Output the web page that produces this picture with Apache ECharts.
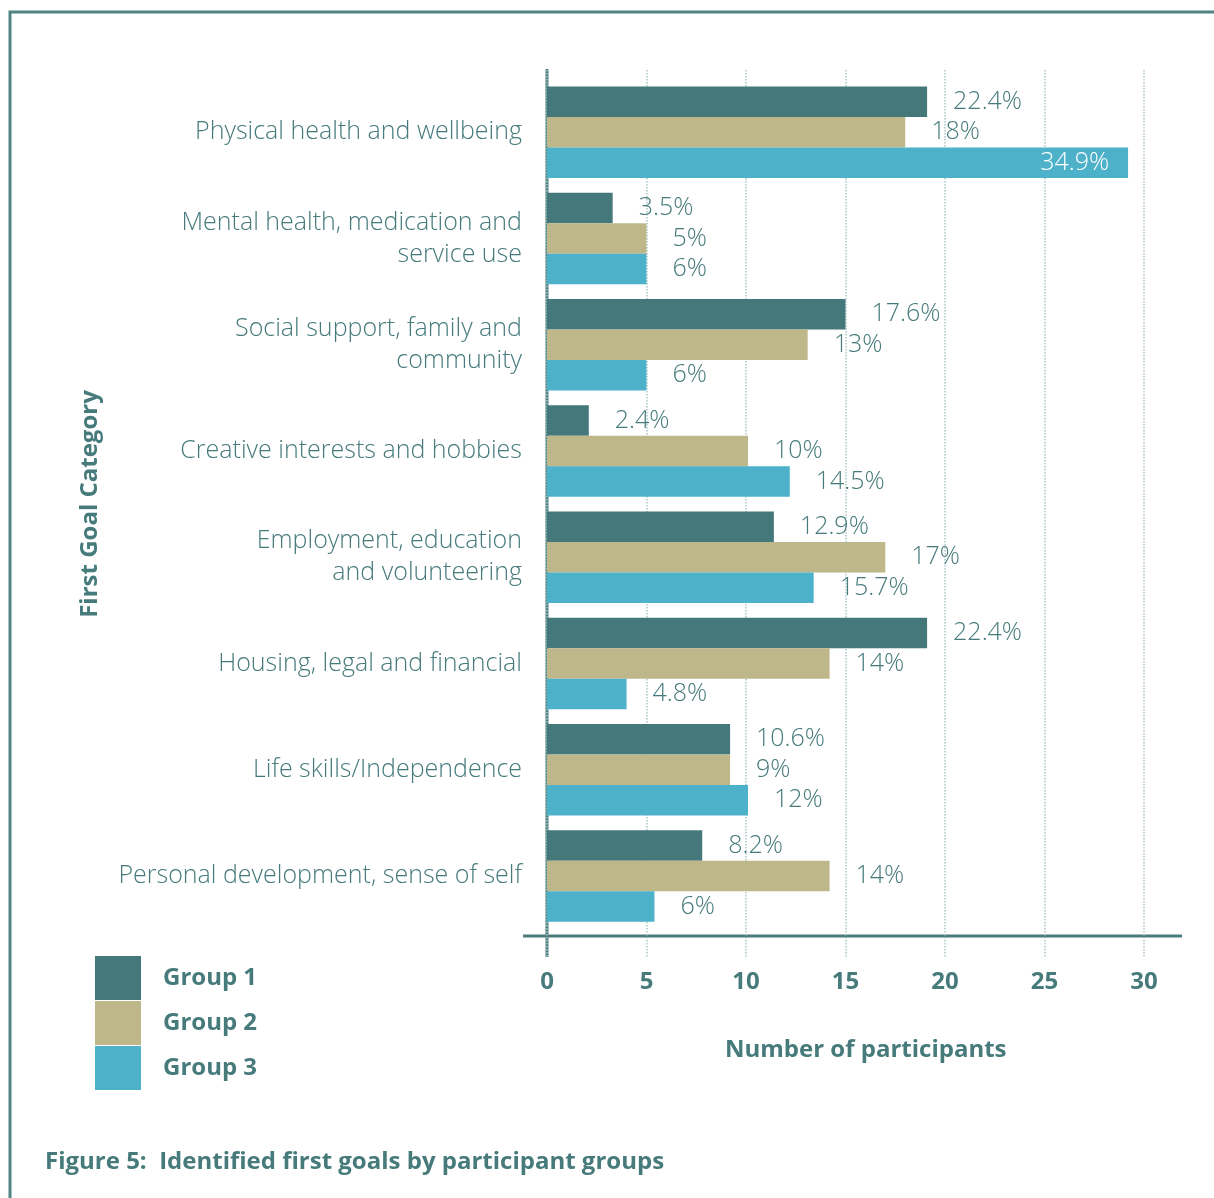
<!DOCTYPE html>
<html>
<head>
<meta charset="utf-8">
<script src="https://cdn.jsdelivr.net/npm/echarts@6/dist/echarts.min.js"></script>
<style>
html,body{margin:0;padding:0;background:#fff;}
#graph{width:1214px;height:1198px;}
</style>
</head>
<body>
<div id="graph"></div>
<script>
var categories = [
    'Physical health and wellbeing',
    'Mental health, medication and\nservice use',
    'Social support, family and\ncommunity',
    'Creative interests and hobbies',
    'Employment, education\nand volunteering',
    'Housing, legal and financial',
    'Life skills/Independence',
    'Personal development, sense of self'
];
var groupNames = ['Group 1', 'Group 2', 'Group 3'];
var group1 = [19.1, 3.3, 15.0, 2.1, 11.4, 19.1, 9.2, 7.8];
var group2 = [18.0, 5.0, 13.1, 10.1, 17.0, 14.2, 9.2, 14.2];
var group3 = [29.2, 5.0, 5.0, 12.2, 13.4, 4.0, 10.1, 5.4];
var group1Pct = ['22.4%', '3.5%', '17.6%', '2.4%', '12.9%', '22.4%', '10.6%', '8.2%'];
var group2Pct = ['18%', '5%', '13%', '10%', '17%', '14%', '9%', '14%'];
var group3Pct = ['34.9%', '6%', '6%', '14.5%', '15.7%', '4.8%', '12%', '6%'];
var xTicks = [0, 5, 10, 15, 20, 25, 30];

var colors = ['#45787a', '#bdb789', '#4db1ca'];
var textColor = '#467a7b';
var font = 'Open Sans';

function makeSeries(name, values, pcts, color) {
    var data = [];
    for (var i = 0; i < values.length; i++) {
        var item = { value: values[i] };
        // the longest bar carries its label inside, in white
        if (values[i] > 25) {
            item.label = { position: 'insideRight', distance: 19, color: '#fff' };
        }
        data.push(item);
    }
    return {
        name: name,
        type: 'bar',
        xAxisIndex: 0,
        yAxisIndex: 0,
        barWidth: 30.5,
        barGap: '0%',
        itemStyle: { color: color },
        label: {
            show: true,
            position: 'right',
            distance: 26,
            fontFamily: font,
            fontWeight: 300,
            fontSize: 25,
            color: textColor,
            formatter: function (p) { return pcts[p.dataIndex]; }
        },
        data: data
    };
}

var dom = document.getElementById('graph');
var myChart = echarts.init(dom);
var option = {
    animation: false,
    color: colors,
    grid: [
        { left: 547, right: 70, top: 79, height: 850, containLabel: false },
        { left: 547, right: 70, top: 70, height: 887, containLabel: false }
    ],
    xAxis: [
        {
            gridIndex: 0, type: 'value', min: 0, max: 30, interval: 5,
            axisLine: { show: false }, axisTick: { show: false },
            axisLabel: { show: false }, splitLine: { show: false }
        },
        {
            gridIndex: 1, type: 'value', min: 0, max: 30, interval: 5,
            axisLine: { show: false }, axisTick: { show: false },
            axisLabel: {
                margin: 13,
                fontFamily: font, fontWeight: 'bold', fontSize: 24, color: textColor,
                formatter: function (v) { return xTicks.indexOf(v) >= 0 ? String(v) : ''; }
            },
            splitLine: { show: true, lineStyle: { color: '#a9c5c7', type: 'dotted', width: 1.5 } }
        }
    ],
    yAxis: [
        {
            gridIndex: 0, type: 'category', inverse: true, data: categories,
            axisLine: { show: false }, axisTick: { show: false },
            axisLabel: {
                margin: 25, fontFamily: font, fontWeight: 300, fontSize: 25,
                lineHeight: 32, color: textColor, align: 'right'
            },
            name: 'First Goal Category',
            nameLocation: 'middle',
            nameGap: 445,
            nameRotate: 90,
            nameTextStyle: { fontFamily: font, fontWeight: 'bold', fontSize: 24, color: textColor }
        },
        {
            gridIndex: 1, type: 'category', data: categories, show: false
        }
    ],
    legend: {
        orient: 'vertical',
        left: 95,
        top: 956,
        padding: 0,
        itemWidth: 46,
        itemHeight: 44,
        itemGap: 1,
        icon: 'rect',
        data: groupNames,
        textStyle: {
            fontFamily: font, fontWeight: 'bold', fontSize: 24, color: textColor,
            padding: [0, 0, 0, 17]
        }
    },
    graphic: [
        {
            type: 'polyline', silent: true,
            shape: { points: [[10, 1198], [10, 12], [1214, 12]] },
            style: { stroke: '#4f8483', lineWidth: 3, fill: null }
        },
        {
            type: 'line', silent: true,
            shape: { x1: 523, y1: 936, x2: 1182, y2: 936 },
            style: { stroke: '#4a7c7c', lineWidth: 3 }
        },
        {
            type: 'line', silent: true,
            shape: { x1: 547, y1: 69, x2: 547, y2: 957 },
            style: { stroke: '#4a7c7c', lineWidth: 3 }
        },
        {
            type: 'text', left: 725, top: 1038, silent: true,
            style: {
                text: 'Number of participants',
                fontFamily: font, fontWeight: 'bold', fontSize: 24, fill: textColor
            }
        },
        {
            type: 'text', left: 45, top: 1150, silent: true,
            style: {
                text: 'Figure 5:  Identified first goals by participant groups',
                fontFamily: font, fontWeight: 'bold', fontSize: 24, fill: textColor
            }
        }
    ],
    series: [
        makeSeries(groupNames[0], group1, group1Pct, colors[0]),
        makeSeries(groupNames[1], group2, group2Pct, colors[1]),
        makeSeries(groupNames[2], group3, group3Pct, colors[2])
    ]
};
if (option && typeof option === 'object') {
    myChart.setOption(option, true);
}
</script>
</body>
</html>
